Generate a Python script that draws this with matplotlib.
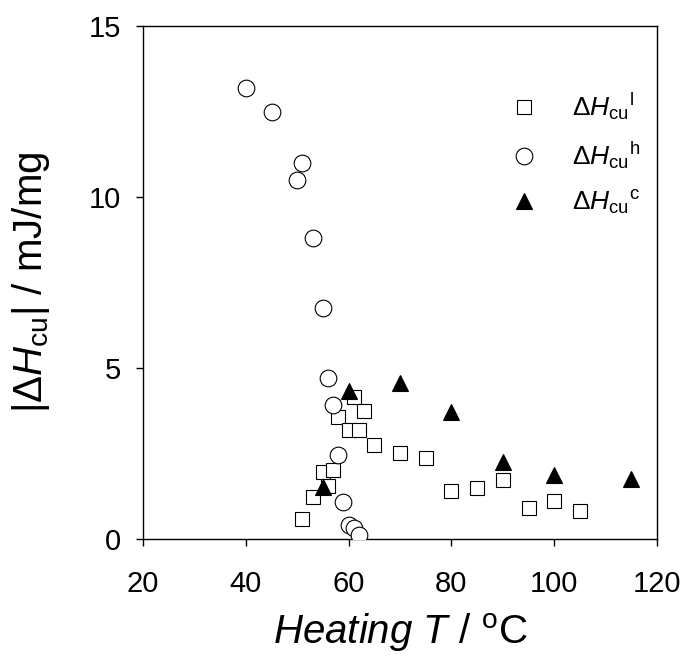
import matplotlib
matplotlib.use("Agg")
import matplotlib.pyplot as plt

plt.rcParams['font.family'] = ['Liberation Sans', 'DejaVu Sans']
plt.rcParams['mathtext.fontset'] = 'custom'
plt.rcParams['mathtext.rm'] = 'Liberation Sans'
plt.rcParams['mathtext.it'] = 'Liberation Sans:italic'
plt.rcParams['mathtext.default'] = 'rm'

# Data
T_low = [51, 53, 55, 56, 57, 58, 60, 61, 62, 63, 65, 70, 75, 80, 85, 90, 95, 100, 105]
H_low = [0.58, 1.22, 1.95, 1.54, 2.03, 3.58, 3.19, 4.15, 3.19, 3.75, 2.75, 2.51, 2.36, 1.41, 1.48, 1.73, 0.92, 1.12, 0.83]

T_high = [40, 45, 50, 51, 53, 55, 56, 57, 58, 59, 60, 61, 62]
H_high = [13.18, 12.48, 10.50, 10.99, 8.79, 6.75, 4.70, 3.92, 2.46, 1.09, 0.40, 0.31, 0.12]

T_c = [55, 60, 70, 80, 90, 100, 115]
H_c = [1.53, 4.34, 4.56, 3.72, 2.26, 1.87, 1.75]

labels = [r'$\Delta\mathit{H}_{\mathrm{cu}}{}^{\mathrm{l}}$',
          r'$\Delta\mathit{H}_{\mathrm{cu}}{}^{\mathrm{h}}$',
          r'$\Delta\mathit{H}_{\mathrm{cu}}{}^{\mathrm{c}}$']

fig = plt.figure(figsize=(6.84, 6.66), dpi=100)
ax = fig.add_axes([143/684, 1 - 539/666, (657-143)/684, (539-26)/666])

ax.plot(T_low, H_low, 's', ms=10, mfc='white', mec='black', mew=0.8, ls='none', label=labels[0], zorder=3)
ax.plot(T_high, H_high, 'o', ms=12, mfc='white', mec='black', mew=0.8, ls='none', label=labels[1], zorder=3)
ax.plot(T_c, H_c, '^', ms=11.5, mfc='black', mec='black', mew=0.8, ls='none', label=labels[2], zorder=4)

ax.set_xlim(20, 120)
ax.set_ylim(0, 15)
ax.set_xticks([20, 40, 60, 80, 100, 120])
ax.set_yticks([0, 5, 10, 15])
ax.tick_params(axis='both', direction='out', length=5, width=1, labelsize=21, top=False, right=False)
ax.tick_params(axis='x', pad=17)
ax.tick_params(axis='y', pad=11)
for s in ax.spines.values():
    s.set_linewidth(1)

ax.set_xlabel(r'$\mathit{Heating\ T}$ / $^{\mathrm{o}}$C', fontsize=29, labelpad=10)
ax.set_ylabel(r'|$\Delta\mathit{H}_{\mathrm{cu}}$| / mJ/mg', fontsize=29)
ax.yaxis.set_label_coords(-0.177, 0.5)

leg = ax.legend(loc='upper left', bbox_to_anchor=(0.69, 0.873), frameon=False, fontsize=19,
                handletextpad=0.8, labelspacing=0.66, borderaxespad=0, borderpad=0)

fig.savefig('out.png', dpi=100)
